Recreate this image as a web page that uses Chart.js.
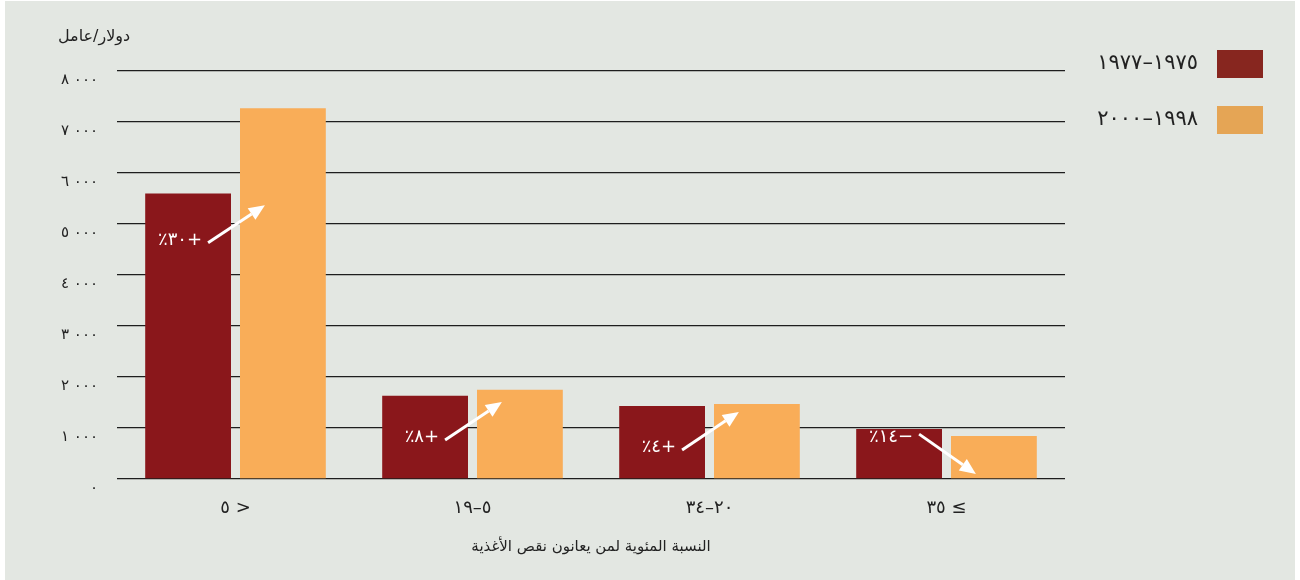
<!DOCTYPE html>
<html lang="ar">
<head>
<meta charset="utf-8">
<script src="https://cdn.jsdelivr.net/npm/chart.js@4.4.1/dist/chart.umd.min.js"></script>
<style>
  html, body { margin: 0; padding: 0; background: #ffffff; }
  #wrap { width: 1300px; height: 580px; position: relative; }
</style>
</head>
<body>
<div id="wrap"><canvas id="myChart" width="1300" height="580"></canvas></div>
<script>
// === Data ===
const RLM = '\u200F';

const categories = ['< ٥', '٥–١٩', '٢٠–٣٤', '≥ ٣٥'];
const seriesNames = ['١٩٧٥–١٩٧٧', '١٩٩٨–٢٠٠٠'];
const values1975 = [5600, 1630, 1430, 980];
const values1998 = [7270, 1750, 1470, 843];

const yTickValues = [0, 1000, 2000, 3000, 4000, 5000, 6000, 7000, 8000];
const yTickLabels = ['٠', '١\u00A0٠٠٠', '٢\u00A0٠٠٠', '٣\u00A0٠٠٠', '٤\u00A0٠٠٠',
                     '٥\u00A0٠٠٠', '٦\u00A0٠٠٠', '٧\u00A0٠٠٠', '٨\u00A0٠٠٠'];

// تغير النسبة بين الفترتين (النص والسهم)
const changeLabels = ['+٣٠٪', '+٨٪', '+٤٪', '−١٤٪'];
const arrowStart = [4630, 765, 570, 880];
const arrowEnd = [5370, 1510, 1315, 100];

const yTitle = 'دولار/عامل';
const xTitle = 'النسبة المئوية لمن يعانون نقص الأغذية';

const barColors = ['#8a171b', '#f9ad58'];
const legendColors = ['#87261f', '#e5a555'];
const arabicFont = "'DejaVu Sans', sans-serif";

const rtl = s => RLM + s + RLM;

// === Plugins ===
const panelBg = {
  id: 'panelBg',
  beforeDraw(chart) {
    const ctx = chart.ctx;
    ctx.save();
    ctx.fillStyle = '#e3e7e2';
    ctx.fillRect(5, 1, chart.width - 10, chart.height - 1);
    ctx.restore();
  }
};

const extras = {
  id: 'extras',
  afterDatasetsDraw(chart) {
    const ctx = chart.ctx;
    const y = chart.scales.y;
    const m0 = chart.getDatasetMeta(0).data;
    const m1 = chart.getDatasetMeta(1).data;

    // arrows + change labels
    ctx.save();
    changeLabels.forEach((lbl, i) => {
      const x0 = m0[i].x + 20;
      const y0 = y.getPixelForValue(arrowStart[i]);
      const x1 = m1[i].x - 18;
      const y1 = y.getPixelForValue(arrowEnd[i]);
      const ang = Math.atan2(y1 - y0, x1 - x0);
      const headLen = 16, headW = 7;
      const bx = x1 - headLen * Math.cos(ang);
      const by = y1 - headLen * Math.sin(ang);

      ctx.strokeStyle = '#ffffff';
      ctx.fillStyle = '#ffffff';
      ctx.lineWidth = 3;
      ctx.beginPath();
      ctx.moveTo(x0, y0);
      ctx.lineTo(bx, by);
      ctx.stroke();

      ctx.beginPath();
      ctx.moveTo(x1, y1);
      ctx.lineTo(bx + headW * Math.sin(ang), by - headW * Math.cos(ang));
      ctx.lineTo(bx - headW * Math.sin(ang), by + headW * Math.cos(ang));
      ctx.closePath();
      ctx.fill();

      ctx.font = '18px ' + arabicFont;
      ctx.textAlign = 'right';
      ctx.textBaseline = 'middle';
      const dy = y1 > y0 ? 3 : -3;
      ctx.fillText(rtl(lbl), x0 - 6, y0 + dy);
    });
    ctx.restore();

    // y axis title
    ctx.save();
    ctx.fillStyle = '#222';
    ctx.font = '16px ' + arabicFont;
    ctx.textAlign = 'left';
    ctx.textBaseline = 'middle';
    ctx.fillText(rtl(yTitle), 58, 37);
    ctx.restore();

    // legend
    ctx.save();
    seriesNames.forEach((name, i) => {
      const top = 50 + i * 56;
      ctx.fillStyle = legendColors[i];
      ctx.fillRect(1217, top, 46, 28);
      ctx.fillStyle = '#222';
      ctx.font = '21px ' + arabicFont;
      ctx.textAlign = 'right';
      ctx.textBaseline = 'middle';
      ctx.fillText(rtl(name), 1198, top + 14);
    });
    ctx.restore();
  }
};

// === Chart ===
const ctx = document.getElementById('myChart').getContext('2d');
new Chart(ctx, {
  type: 'bar',
  data: {
    labels: categories.map(rtl),
    datasets: [
      { label: seriesNames[0], data: values1975, backgroundColor: barColors[0] },
      { label: seriesNames[1], data: values1998, backgroundColor: barColors[1] }
    ]
  },
  options: {
    responsive: false,
    animation: false,
    layout: { padding: { left: 0, right: 235, top: 71, bottom: 0 } },
    datasets: {
      bar: { categoryPercentage: 0.8, barPercentage: 0.905 }
    },
    plugins: {
      legend: { display: false },
      tooltip: { enabled: false }
    },
    scales: {
      x: {
        grid: { display: false, drawTicks: false },
        border: { display: false },
        ticks: {
          color: '#222',
          padding: 19,
          font: { family: arabicFont, size: 18 }
        },
        title: {
          display: true,
          text: rtl(xTitle),
          color: '#222',
          font: { family: arabicFont, size: 15 },
          padding: { top: 0, bottom: 24 }
        },
        afterFit(scale) { scale.height = 101; }
      },
      y: {
        min: 0,
        max: 8000,
        afterBuildTicks(scale) {
          scale.ticks = yTickValues.map(v => ({ value: v }));
        },
        grid: { color: '#1e1e1e', lineWidth: 1.3, drawTicks: false },
        border: { display: false },
        ticks: {
          color: '#222',
          padding: 19,
          labelOffset: 9,
          font: { family: arabicFont, size: 15 },
          callback: (v) => yTickLabels[yTickValues.indexOf(v)]
        },
        afterFit(scale) { scale.width = 117; }
      }
    }
  },
  plugins: [panelBg, extras]
});
</script>
</body>
</html>
